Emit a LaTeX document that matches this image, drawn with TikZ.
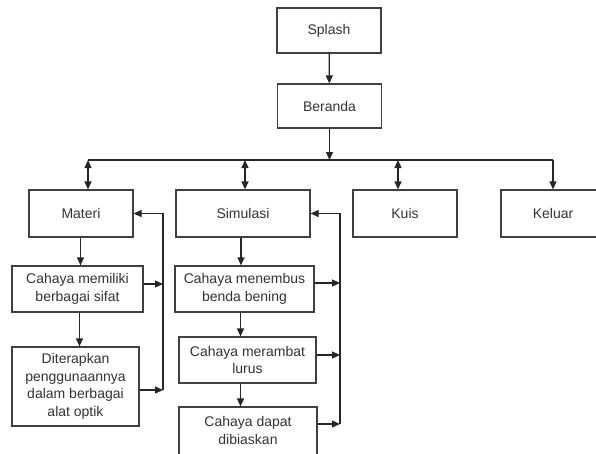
\documentclass[tikz,border=0pt]{standalone}
\usepackage{fontspec}
\setmainfont{Liberation Sans}
\usetikzlibrary{arrows.meta}
\begin{document}
\begin{tikzpicture}[x=1pt,y=-1pt,
  box/.style={draw=black!75,line width=1.2pt,rectangle,inner sep=0pt,align=center,
    text=black!80,font=\fontsize{14}{17.5}\selectfont},
  conn/.style={draw=black!85,line width=1.2pt},
  arr/.style={conn,-{Triangle[length=8pt,width=7pt]}},
  darr/.style={conn,{Triangle[length=8pt,width=7pt]}-{Triangle[length=8pt,width=7pt]}}]
\useasboundingbox (0,0) rectangle (596,453);
\clip (0,0) rectangle (596,453);
\fill[white] (0,0) rectangle (596,453);
% nodes
\node[box,minimum width=104pt,minimum height=45pt] (splash) at (329,30.5) {Splash};
\node[box,minimum width=104pt,minimum height=44pt] (beranda) at (329.5,106) {Beranda};
\node[box,minimum width=104pt,minimum height=47pt] (materi) at (81,213.5) {Materi};
\node[box,minimum width=134pt,minimum height=47pt] (simulasi) at (243,213.5) {Simulasi};
\node[box,minimum width=104pt,minimum height=47pt] (kuis) at (405,213.5) {Kuis};
\node[box,minimum width=104pt,minimum height=47pt] (keluar) at (553,213.5) {Keluar};
\node[box,minimum width=131pt,minimum height=46pt] (sifat) at (77.5,289) {Cahaya memiliki\\berbagai sifat};
\node[box,minimum width=127pt,minimum height=79pt] (optik) at (75.5,386.5) {Diterapkan\\penggunaannya\\dalam berbagai\\alat optik};
\node[box,minimum width=139pt,minimum height=46pt] (menembus) at (244.5,289) {Cahaya menembus\\benda bening};
\node[box,minimum width=137pt,minimum height=46pt] (merambat) at (247.5,360) {Cahaya merambat\\lurus};
\node[box,minimum width=138pt,minimum height=50pt,text depth=3pt] (bias) at (248,432) {Cahaya dapat\\dibiaskan};
% bus coordinates
\coordinate (bB) at (329.5,160);
\coordinate (bL) at (88,160);
\coordinate (bS) at (245,160);
\coordinate (bK) at (398,160);
\coordinate (bR) at (553,160);
\coordinate (fLt) at (163,213.5);
\coordinate (fLb) at (163,390);
\coordinate (fRt) at (340,213.5);
\coordinate (fRb) at (340,424);
% connectors
\draw[arr] (splash) -- (beranda);
\draw[arr] (beranda) -- (bB);
\draw[conn] (bL) -- (bR);
\draw[darr] (bL) -- (bL |- materi.north);
\draw[darr] (bS) -- (bS |- simulasi.north);
\draw[darr] (bK) -- (bK |- kuis.north);
\draw[arr] (bR) -- (keluar.north);
\draw[arr] (materi.south -| 80.5,0) -- (sifat.north -| 80.5,0);
\draw[arr] (sifat.south -| 79.5,0) -- (optik.north -| 79.5,0);
\draw[arr] (simulasi.south -| 241,0) -- (menembus.north -| 241,0);
\draw[arr] (menembus.south -| 240.5,0) -- (merambat.north -| 240.5,0);
\draw[arr] (merambat.south -| 240.5,0) -- (bias.north -| 240.5,0);
\draw[arr] (fLb) -- (fLt) -- (materi.east);
\draw[arr] (sifat.east |- 0,284) -- (163,284);
\draw[arr] (optik.east |- fLb) -- (fLb);
\draw[arr] (fRb) -- (fRt) -- (simulasi.east);
\draw[arr] (menembus.east |- 0,283) -- (340,283);
\draw[arr] (merambat.east |- 0,355) -- (340,355);
\draw[arr] (bias.east |- fRb) -- (fRb);
\end{tikzpicture}
\end{document}
